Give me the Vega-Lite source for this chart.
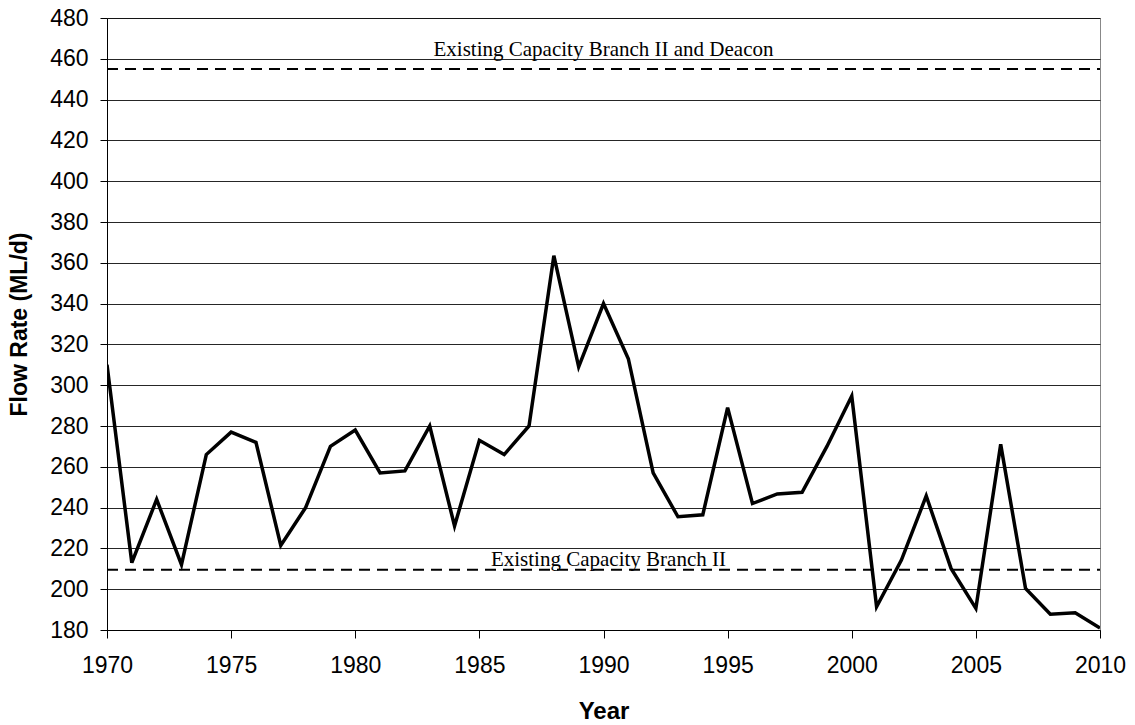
{
  "$schema": "https://vega.github.io/schema/vega-lite/v6.json",
  "autosize": "none",
  "width": 993,
  "height": 612,
  "padding": {"left": 107, "top": 18, "right": 35, "bottom": 95},
  "background": "white",
  "config": {
    "view": {"stroke": "#888888", "strokeWidth": 1},
    "font": "Liberation Sans"
  },
  "datasets": {
    "flow": [
      {"year": 1970, "flow": 310},
      {"year": 1971, "flow": 213},
      {"year": 1972, "flow": 244},
      {"year": 1973, "flow": 212},
      {"year": 1974, "flow": 266},
      {"year": 1975, "flow": 277},
      {"year": 1976, "flow": 272},
      {"year": 1977, "flow": 221.5},
      {"year": 1978, "flow": 240},
      {"year": 1979, "flow": 270},
      {"year": 1980, "flow": 278},
      {"year": 1981, "flow": 257},
      {"year": 1982, "flow": 258},
      {"year": 1983, "flow": 280},
      {"year": 1984, "flow": 231},
      {"year": 1985, "flow": 273},
      {"year": 1986, "flow": 266},
      {"year": 1987, "flow": 280},
      {"year": 1988, "flow": 363.5},
      {"year": 1989, "flow": 309},
      {"year": 1990, "flow": 340},
      {"year": 1991, "flow": 313},
      {"year": 1992, "flow": 257},
      {"year": 1993, "flow": 235.5},
      {"year": 1994, "flow": 236.5},
      {"year": 1995, "flow": 289},
      {"year": 1996, "flow": 242},
      {"year": 1997, "flow": 246.7},
      {"year": 1998, "flow": 247.5},
      {"year": 1999, "flow": 270},
      {"year": 2000, "flow": 294.7},
      {"year": 2001, "flow": 191.4},
      {"year": 2002, "flow": 214.3},
      {"year": 2003, "flow": 245.7},
      {"year": 2004, "flow": 210.2},
      {"year": 2005, "flow": 190.6},
      {"year": 2006, "flow": 271},
      {"year": 2007, "flow": 200.4},
      {"year": 2008, "flow": 187.7},
      {"year": 2009, "flow": 188.5},
      {"year": 2010, "flow": 181}
    ],
    "capacity": [
      {"start": 1970, "end": 2010, "capacity": 455},
      {"start": 1970, "end": 2010, "capacity": 209.5}
    ],
    "labelTop": [
      {"mid": 1990, "capacity": 455, "label": "Existing Capacity Branch II and Deacon"}
    ],
    "labelBottom": [
      {"mid": 1990.2, "capacity": 209.5, "label": "Existing Capacity Branch II"}
    ]
  },
  "layer": [
    {
      "data": {"name": "flow"},
      "mark": {"type": "line", "color": "black", "strokeWidth": 3.5, "strokeJoin": "miter", "clip": true},
      "encoding": {
        "x": {
          "field": "year", "type": "quantitative",
          "scale": {"domain": [1970, 2010], "nice": false, "zero": false},
          "axis": {
            "title": "Year", "values": [1970, 1975, 1980, 1985, 1990, 1995, 2000, 2005, 2010],
            "format": "d", "grid": false, "domainColor": "black", "tickColor": "black",
            "tickSize": 8, "labelFontSize": 23, "labelColor": "black", "labelPadding": 16,
            "labelFlush": false, "labelOverlap": false,
            "titleFontSize": 24, "titleFontWeight": "bold", "titleColor": "black", "titlePadding": 22,
            "labelFont": "Liberation Sans", "titleFont": "Liberation Sans"
          }
        },
        "y": {
          "field": "flow", "type": "quantitative",
          "scale": {"domain": [180, 480], "nice": false, "zero": false},
          "axis": {
            "title": "Flow Rate (ML/d)",
            "values": [180, 200, 220, 240, 260, 280, 300, 320, 340, 360, 380, 400, 420, 440, 460, 480],
            "grid": true, "gridColor": "black", "gridWidth": 1, "gridOpacity": 0.85,
            "domainColor": "black", "tickColor": "black", "tickSize": 7,
            "labelFontSize": 23, "labelColor": "black", "labelPadding": 12,
            "labelFlush": false, "labelOverlap": false,
            "titleFontSize": 23, "titleFontWeight": "bold", "titleColor": "black", "titlePadding": 18,
            "labelFont": "Liberation Sans", "titleFont": "Liberation Sans"
          }
        }
      }
    },
    {
      "data": {"name": "capacity"},
      "mark": {"type": "rule", "color": "black", "strokeWidth": 2, "strokeDash": [11, 7]},
      "encoding": {
        "x": {"field": "start", "type": "quantitative"},
        "x2": {"field": "end"},
        "y": {"field": "capacity", "type": "quantitative"}
      }
    },
    {
      "data": {"name": "labelTop"},
      "mark": {"type": "text", "font": "Liberation Serif", "fontSize": 21, "color": "black", "baseline": "alphabetic", "align": "center", "dy": -13},
      "encoding": {
        "x": {"field": "mid", "type": "quantitative"},
        "y": {"field": "capacity", "type": "quantitative"},
        "text": {"field": "label"}
      }
    },
    {
      "data": {"name": "labelBottom"},
      "mark": {"type": "text", "font": "Liberation Serif", "fontSize": 21, "color": "black", "baseline": "alphabetic", "align": "center", "dy": -4},
      "encoding": {
        "x": {"field": "mid", "type": "quantitative"},
        "y": {"field": "capacity", "type": "quantitative"},
        "text": {"field": "label"}
      }
    }
  ]
}
